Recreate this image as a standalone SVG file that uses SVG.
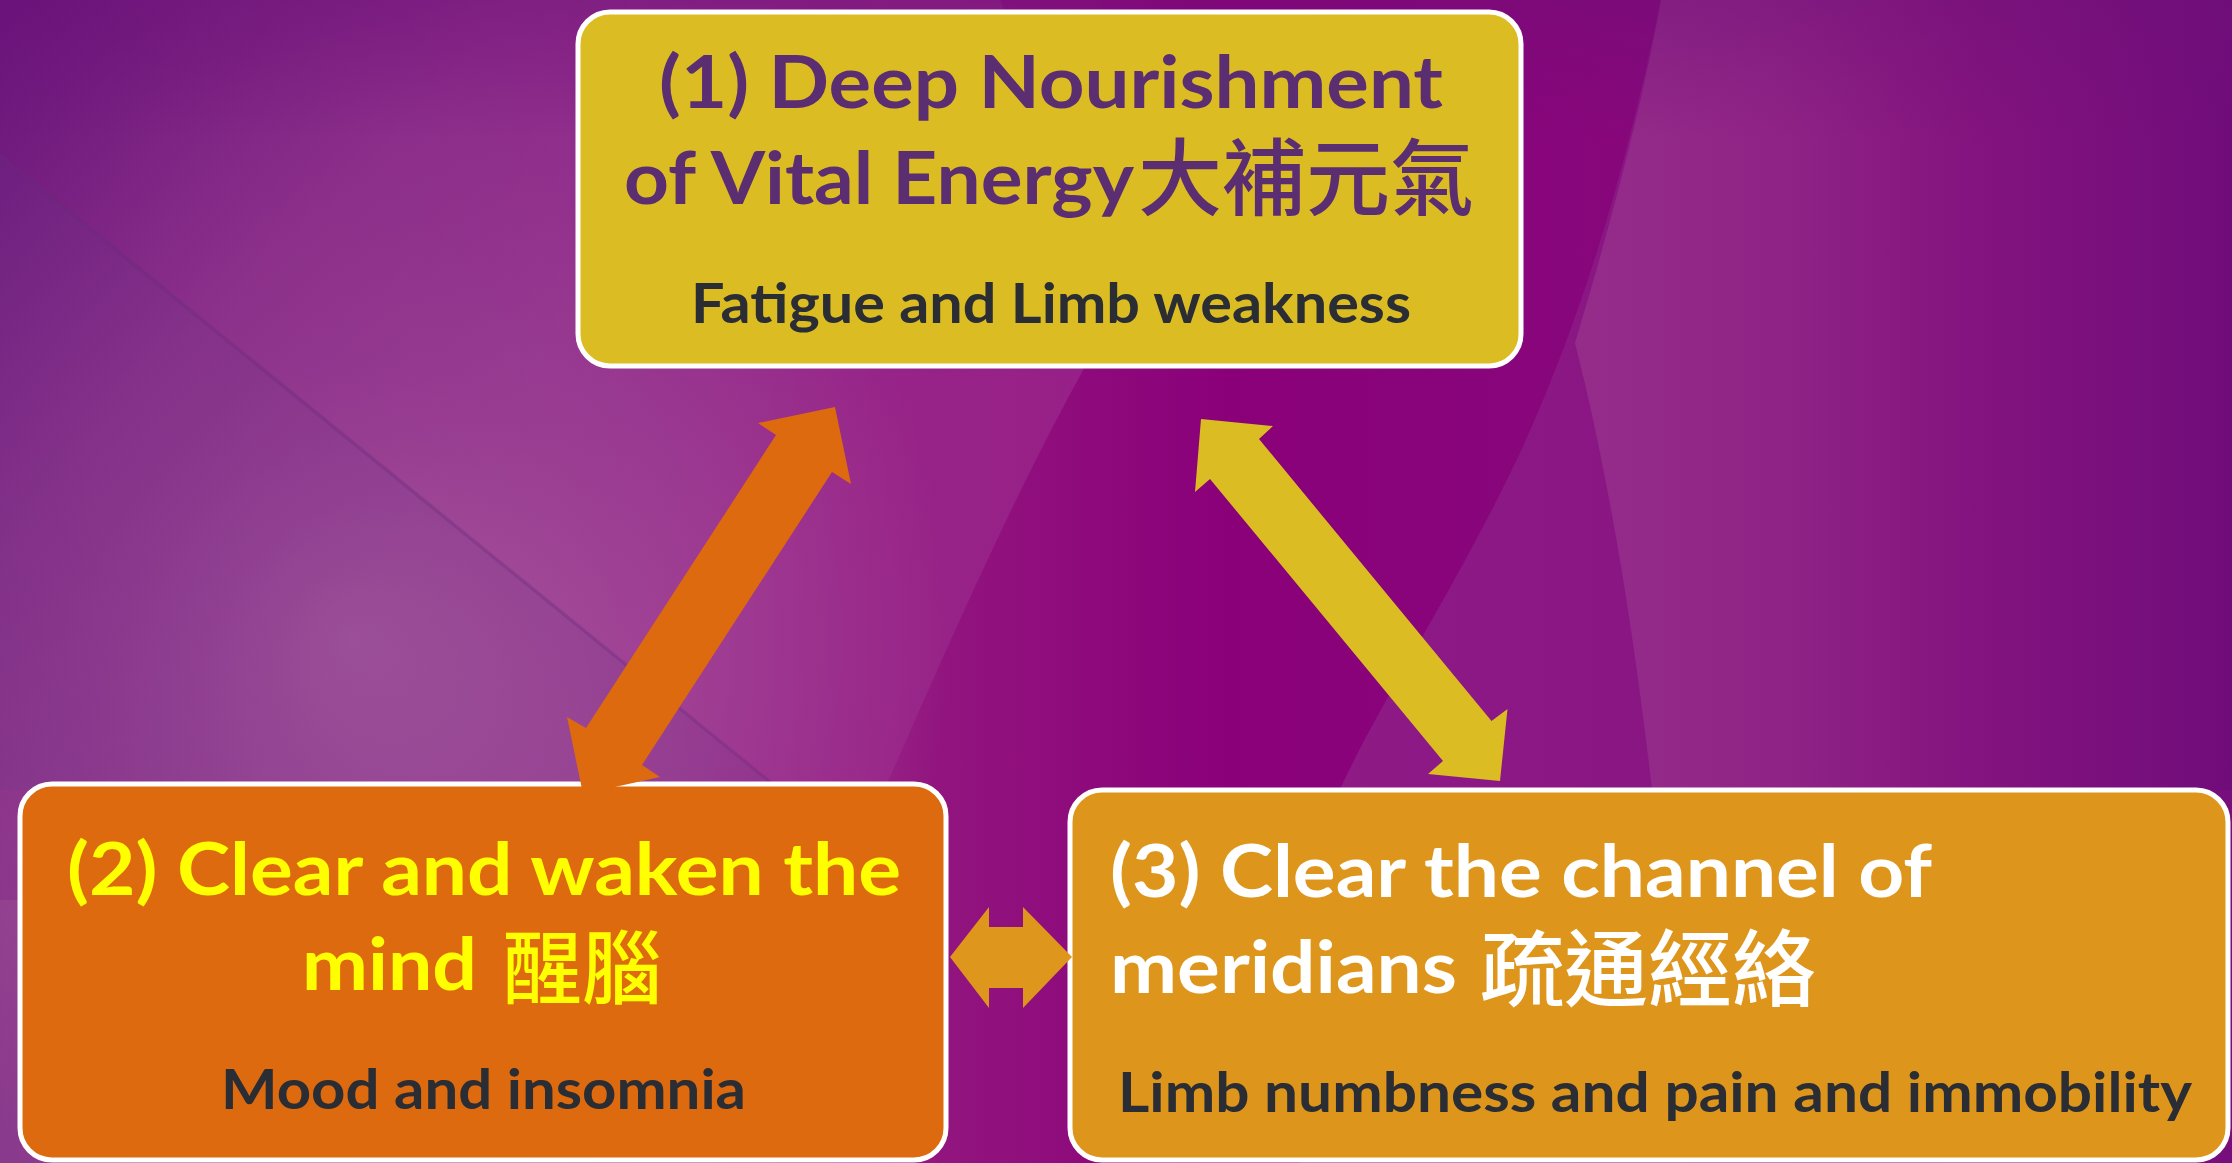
<svg xmlns="http://www.w3.org/2000/svg" width="2232" height="1163" viewBox="0 0 2232 1163">
<defs>
<linearGradient id="bgBase" x1="0" y1="0" x2="1" y2="0">
<stop offset="0" stop-color="#8A3A8C"/>
<stop offset="0.25" stop-color="#9A3A92"/>
<stop offset="0.42" stop-color="#92157F"/>
<stop offset="0.55" stop-color="#8A0079"/>
<stop offset="0.7" stop-color="#88067B"/>
<stop offset="1" stop-color="#7A1279"/>
</linearGradient>
<radialGradient id="spot" cx="352" cy="637" r="600" gradientUnits="userSpaceOnUse">
<stop offset="0" stop-color="#B262A2" stop-opacity="1"/>
<stop offset="0.45" stop-color="#A6509A" stop-opacity="0.6"/>
<stop offset="1" stop-color="#A6509A" stop-opacity="0"/>
</radialGradient>
<linearGradient id="topDark" x1="0" y1="0" x2="700" y2="650" gradientUnits="userSpaceOnUse">
<stop offset="0" stop-color="#66127A" stop-opacity="0.95"/>
<stop offset="0.4" stop-color="#7A1A80" stop-opacity="0.45"/>
<stop offset="1" stop-color="#7A1A80" stop-opacity="0"/>
</linearGradient>
<linearGradient id="topEdge" x1="0" y1="0" x2="0" y2="1">
<stop offset="0" stop-color="#6E1078" stop-opacity="0.7"/>
<stop offset="1" stop-color="#6E1078" stop-opacity="0"/>
</linearGradient>
<linearGradient id="rightA" x1="1335" y1="0" x2="2232" y2="0" gradientUnits="userSpaceOnUse">
<stop offset="0" stop-color="#8E1A86"/>
<stop offset="0.5" stop-color="#861482"/>
<stop offset="1" stop-color="#760E7C"/>
</linearGradient>
<linearGradient id="rightB" x1="1575" y1="0" x2="2232" y2="0" gradientUnits="userSpaceOnUse">
<stop offset="0" stop-color="#952C8A"/>
<stop offset="0.3" stop-color="#902486"/>
<stop offset="0.6" stop-color="#84147F"/>
<stop offset="1" stop-color="#700C7A"/>
</linearGradient>
<linearGradient id="leftBand" x1="0" y1="0" x2="1" y2="0">
<stop offset="0" stop-color="#A0469A" stop-opacity="0"/>
<stop offset="0.7" stop-color="#9C2D8E" stop-opacity="0.5"/>
<stop offset="1" stop-color="#9A2A8C" stop-opacity="0.7"/>
</linearGradient>
<style>
.box{stroke:#FFFFFF;stroke-width:5}
.lat{font-family:Lato,"Liberation Sans",sans-serif;font-weight:700}
.cjk{font-family:"Noto Sans CJK TC","Noto Sans CJK SC",sans-serif;font-weight:500}
.t1{font-size:72px}
.t2{font-size:55px}
.purple{fill:#5B2D71}
.dark{fill:#2A2D34}
.yel{fill:#FFFF00}
.wht{fill:#FFFFFF}
</style>
</defs>
<g id="background">
<rect x="0" y="0" width="2232" height="1163" fill="url(#bgBase)"/>
<path d="M0 0 L1000 0 C1080 200 1120 300 1100 340 C1020 480 950 640 880 800 L780 1163 L0 1163 Z" fill="url(#leftBand)"/>
<path d="M1661 0 C1630 150 1590 300 1520 453 C1450 600 1380 700 1335 800 L1300 1163 L2232 1163 L2232 0 Z" fill="url(#rightA)"/>
<path d="M1661 0 C1640 120 1600 260 1575 343 C1610 480 1635 640 1652 790 L2232 790 L2232 0 Z" fill="url(#rightB)"/>
<rect x="0" y="0" width="2232" height="1163" fill="url(#spot)"/>
<rect x="0" y="0" width="1100" height="900" fill="url(#topDark)"/>
<rect x="0" y="0" width="2232" height="140" fill="url(#topEdge)" opacity="0.6"/>
<path d="M0 155 L780 790 L0 790 Z" fill="#5A3A8A" opacity="0.14"/>
<path d="M0 153 L780 788 L780 792 L0 158 Z" fill="#6A2A7A" opacity="0.35"/>
</g>
<g id="node1">
<rect class="box" x="578" y="12" width="943" height="354" rx="32" fill="#DBBC22"/>
<text class="lat t1 purple" x="659" y="108" textLength="784" lengthAdjust="spacingAndGlyphs">(1) Deep Nourishment</text>
<text class="lat t1 purple" x="624" y="204" textLength="510" lengthAdjust="spacingAndGlyphs">of Vital Energy</text>
<text class="cjk purple" x="1138" y="209" font-size="84">大補元氣</text>
<text class="lat t2 dark" x="691" y="323" textLength="720" lengthAdjust="spacingAndGlyphs">Fatigue and Limb weakness</text>
</g>
<g id="node2">
<rect class="box" x="20" y="784" width="926" height="376" rx="32" fill="#DD6A0F"/>
<text class="lat t1 yel" x="67" y="895" textLength="834" lengthAdjust="spacingAndGlyphs">(2) Clear and waken the</text>
<text class="lat t1 yel" x="302" y="990" textLength="175" lengthAdjust="spacingAndGlyphs">mind</text>
<text class="cjk yel" x="502" y="997" font-size="80">醒腦</text>
<text class="lat t2 dark" x="221" y="1109" textLength="525" lengthAdjust="spacingAndGlyphs">Mood and insomnia</text>
</g>
<g id="node3">
<rect class="box" x="1070" y="790" width="1158" height="370" rx="32" fill="#DD961B"/>
<text class="lat t1 wht" x="1110" y="897" textLength="822" lengthAdjust="spacingAndGlyphs">(3) Clear the channel of</text>
<text class="lat t1 wht" x="1110" y="993" textLength="347" lengthAdjust="spacingAndGlyphs">meridians</text>
<text class="cjk wht" x="1480" y="1000" font-size="84">疏通經絡</text>
<text class="lat t2 dark" x="1118" y="1112" textLength="1074" lengthAdjust="spacingAndGlyphs">Limb numbness and pain and immobility</text>
</g>
<g id="connectors">
<polygon id="arrow-1-2" fill="#DD6A0F" points="835,407 851,484 832,472 642,765 660,777 583,794 567,717 586,728 776,435 758,423"/>
<polygon id="arrow-1-3" fill="#DBBC22" points="1201,419 1273,426 1259,439 1491.5,721 1507.5,709 1500,781 1428,774 1443,761 1210,479 1195,492"/>
<polygon id="arrow-2-3" fill="#DE961C" points="950,957 989,907 989,927 1023,927 1023,907 1072,957 1023,1008 1023,988 989,988 989,1008"/>
</g>
</svg>
